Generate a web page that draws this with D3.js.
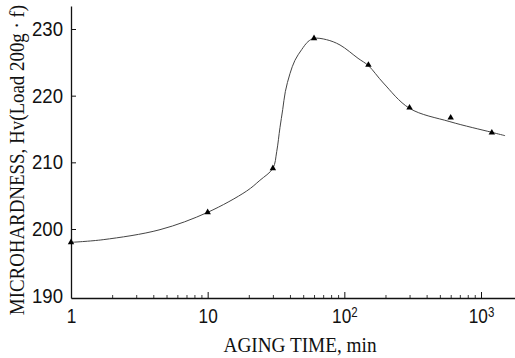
<!DOCTYPE html>
<html><head><meta charset="utf-8">
<script src="https://cdn.jsdelivr.net/npm/d3@7"></script>
<style>
html,body{margin:0;padding:0;background:#fff;}
svg{display:block;font-family:"Liberation Serif","Times New Roman",serif;}
</style></head>
<body><svg id="c" width="515" height="358"></svg>
<script>
// Measured points (aging time in min, microhardness Hv)
const agingTime = [1, 10, 30, 60, 150, 300, 600, 1200];
const hardness  = [198.0, 202.5, 209.1, 228.6, 224.6, 218.2, 216.7, 214.45];
// Hand-drawn fit curve
const curveTime = [1, 1.72, 4.48, 10, 19.3, 24.1, 30, 32, 33.8, 35.4, 37, 40, 43.5, 48.7, 54.2, 60, 74, 93, 126, 150, 193, 300, 592, 1200, 1500];
const curveHv   = [198.0, 198.4, 199.9, 202.5, 205.7, 207.3, 209.1, 211.6, 215.2, 217.9, 220.6, 223.3, 225.3, 226.9, 228.1, 228.6, 228.4, 227.6, 225.6, 224.5, 221.9, 218.1, 216.1, 214.5, 214.0];
const yTicks = [190, 200, 210, 220, 230];
const xMajor = [1, 10, 100, 1000];
const xMajorLabels = [["1",""],["10",""],["10","2"],["10","3"]];
const xLabel = "AGING TIME, min";
const yLabel = "MICROHARDNESS, Hv(Load 200g · f)";

const svg = d3.select("#c");
const x = d3.scaleLog().domain([1, Math.pow(10, 444/136.67)]).range([71, 515]);
const y = d3.scaleLinear().domain([189.65, 233.45]).range([298, 6]);

// minor ticks
const xMinor = [];
for (let d = 1; d < 2000; d *= 10) for (let k = 2; k <= 9; k++) if (d*k <= x.domain()[1]) xMinor.push(d*k);

svg.append("g").attr("transform","translate(0,298)")
  .call(d3.axisBottom(x).tickValues(xMinor).tickSizeInner(-3).tickSizeOuter(0).tickFormat(""))
  .call(g => g.select(".domain").remove())
  .call(g => g.selectAll("line").attr("stroke","#222").attr("stroke-width",0.9));

const gx = svg.append("g").attr("transform","translate(0,298)")
  .call(d3.axisBottom(x).tickValues(xMajor).tickSizeInner(-6).tickSizeOuter(0).tickFormat(""));
gx.select(".domain").attr("stroke","#111").attr("stroke-width",1.6);
gx.selectAll("line").attr("stroke","#111").attr("stroke-width",1);
gx.selectAll(".tick").each(function(d,i){
  const t = d3.select(this).append("text")
    .attr("fill","#111").attr("font-size",21).attr("text-anchor","middle")
    .attr("transform","translate(0,25) scale(0.82,1)");
  t.append("tspan").text(xMajorLabels[i][0]);
  if (xMajorLabels[i][1]) t.append("tspan").attr("dy","-0.42em").attr("font-size",14).text(xMajorLabels[i][1]);
});

const gy = svg.append("g").attr("transform","translate(71,0)")
  .call(d3.axisLeft(y).tickValues(yTicks).tickSizeInner(-5).tickSizeOuter(0).tickFormat(""));
gy.select(".domain").attr("stroke","#111").attr("stroke-width",1.3);
gy.selectAll("line").attr("stroke","#111").attr("stroke-width",1);
gy.selectAll(".tick").filter(d => d === 190).select("line").remove();
gy.selectAll(".tick").append("text")
  .attr("fill","#111").attr("font-size",20).attr("text-anchor","end")
  .attr("transform","translate(-8,6.5) scale(0.93,1)")
  .text(d => d);

// curve
const line = d3.line().x(d => x(d[0])).y(d => y(d[1])).curve(d3.curveCatmullRom.alpha(0.5));
svg.append("path").datum(curveTime.map((t,i)=>[t,curveHv[i]]))
  .attr("d", line).attr("fill","none").attr("stroke","#444").attr("stroke-width",1);

// markers
svg.append("g").selectAll("path").data(agingTime.map((t,i)=>[t,hardness[i]])).join("path")
  .attr("d", d3.symbol(d3.symbolTriangle, 18))
  .attr("transform", d => `translate(${x(d[0])},${y(d[1])})`)
  .attr("fill","#000");

// axis titles
svg.append("text").attr("font-size",22).attr("fill","#111").attr("text-anchor","middle")
  .attr("transform","translate(300,352) scale(0.875,1)").text(xLabel);
svg.append("text").attr("font-size",22).attr("fill","#111").attr("text-anchor","middle")
  .attr("transform","translate(24,160) rotate(-90) scale(0.86,1)").text(yLabel);
</script></body></html>
